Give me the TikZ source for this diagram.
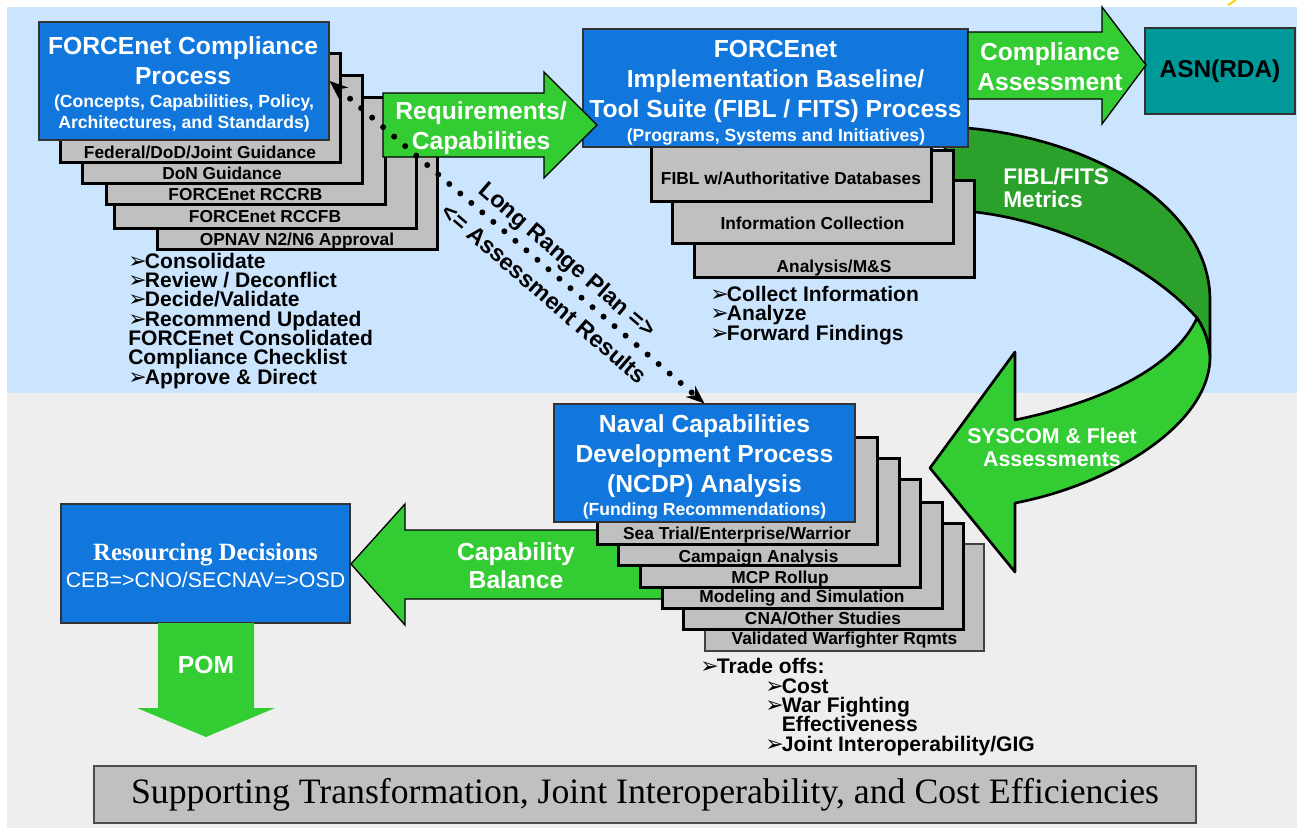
\documentclass[tikz,border=0pt]{standalone}
\usepackage{fontspec}
\setmainfont{Liberation Sans}
\newfontfamily\serifface{Liberation Serif}
\newfontfamily\dingface{DejaVu Sans}
\usetikzlibrary{arrows.meta}

\definecolor{skyback}{RGB}{204,229,255}
\definecolor{greyback}{RGB}{238,238,238}
\definecolor{procblue}{RGB}{17,119,221}
\definecolor{flowgreen}{RGB}{51,204,51}
\definecolor{loopgreen}{RGB}{43,160,43}
\definecolor{asnteal}{RGB}{0,153,153}
\definecolor{stepgrey}{RGB}{192,192,192}

\newlength\bulw \setlength\bulw{12.5pt}
\newcommand\arrbul{\makebox[\bulw][l]{\smash{\dingface\fontsize{16.5}{16.5}\selectfont ➢}}}
\newcommand\tightlines{\lineskiplimit-20pt\relax}

\tikzset{
  procbox/.style={draw=black!80, fill=procblue, line width=0.8pt, inner sep=0pt},
  stepbox/.style={draw=black, fill=stepgrey, line width=2.25pt},
  blockarrow/.style={draw=black, fill=flowgreen, line width=1pt, line join=miter},
  loopband/.style={draw=black, line width=2pt, line join=round},
  headtxt/.style={text=white, align=center, anchor=base, inner sep=0pt, font=\fontsize{18.5}{22.2}\selectfont\bfseries},
  subtxt/.style={text=white, align=center, anchor=base, inner sep=0pt, font=\fontsize{13.2}{15.75}\selectfont\bfseries},
  steptxt/.style={anchor=base, inner sep=0pt, font=\fontsize{13}{15}\selectfont\bfseries},
  listtxt/.style={anchor=base west, align=left, inner sep=0pt, font=\fontsize{15.8}{14.5}\selectfont\bfseries\tightlines},
  lrtxt/.style={inner sep=0pt, font=\fontsize{17.5}{20}\selectfont\bfseries},
  dotlink/.style={line width=4.5pt, line cap=round, dash pattern=on 0pt off 10.9pt,
    arrows={Stealth[length=14pt,width=11pt,line width=0pt]-Stealth[length=14pt,width=11pt,line width=0pt]}},
}

\begin{document}
\begin{tikzpicture}[x=0.75pt, y=-0.75pt]
  \useasboundingbox (0,0) rectangle (1297,828);
  % backgrounds
  \fill[white] (0,0) rectangle (1297,828);
  \fill[skyback] (7,7) rectangle (1297,393);
  \fill[greyback] (7,393) rectangle (1297,828);
  \draw[yellow!70!orange, line width=1.5pt] (1228,5) -- (1236,0);

  % twisted metrics loop
  \filldraw[loopband, fill=loopgreen] (945,128) -- (967,128) .. controls (1100,140) and (1210,210) .. (1210,300)
    -- (1210,357) .. controls (1209,343) and (1205,330) .. (1197,318)
    .. controls (1150,265) and (1060,222) .. (975,212) -- (945,212) -- cycle;
  \filldraw[loopband, fill=flowgreen] (1197,318) .. controls (1205,330) and (1209,343) .. (1210,357)
    .. controls (1210,425) and (1110,485) .. (1015,503) -- (1015,572) -- (930,468) -- (1015,352) -- (1015,420)
    .. controls (1110,400) and (1175,365) .. (1197,318) -- cycle;
  \node[headtxt, anchor=base west, align=left, font=\fontsize{17}{17.25}\selectfont\bfseries] (fitsmetrics) at (1003,207) {FIBL/FITS\\Metrics};
  \node[headtxt, font=\fontsize{16}{17.25}\selectfont\bfseries] (sysfleet) at (1052,466) {SYSCOM \& Fleet\\Assessments};

  % compliance process stack
  \draw[stepbox] (157,141) rectangle (437,249);
  \node[steptxt] (opnav) at (297,245) {OPNAV N2/N6 Approval};
  \draw[stepbox] (114,119) rectangle (416,228);
  \node[steptxt] (rccfb) at (265,222) {FORCEnet RCCFB};
  \draw[stepbox] (106,97) rectangle (385,204);
  \node[steptxt] (rccrb) at (245.5,200) {FORCEnet RCCRB};
  \draw[stepbox] (82,75) rectangle (362,183);
  \node[steptxt] (dong) at (222,179) {DoN Guidance};
  \draw[stepbox] (60,53) rectangle (340,162);
  \node[steptxt] (fedg) at (200,158) {Federal/DoD/Joint Guidance};
  \node[procbox, minimum width=217.5pt, minimum height=88.5pt] (fcp) at (184,81) {};
  \node[headtxt] (fcptitle) at (183,84) {FORCEnet Compliance\\Process};
  \node[subtxt] (fcpsub) at (184,128) {(Concepts, Capabilities, Policy,\\Architectures, and Standards)};
  \node[listtxt] (fcplist) at (128,384) {\arrbul Consolidate\\\arrbul Review / Deconflict\\\arrbul Decide/Validate\\\arrbul Recommend Updated\\FORCEnet Consolidated\\Compliance Checklist\\\arrbul Approve \& Direct};

  % FIBL / FITS stack
  \draw[stepbox] (694,180) rectangle (974,277);
  \node[steptxt] (anams) at (834,272) {Analysis/M\&S};
  \draw[stepbox] (672,150) rectangle (953,243);
  \node[steptxt] (infocoll) at (812.5,229) {Information Collection};
  \draw[stepbox] (651,120) rectangle (931,201);
  \node[steptxt] (fiblauth) at (791,184) {FIBL w/Authoritative Databases};
  \node[procbox, minimum width=288.75pt, minimum height=88.5pt] (fibl) at (775.5,88) {};
  \node[headtxt] (fibltitle) at (775.5,117) {FORCEnet\\Implementation Baseline/\\Tool Suite (FIBL / FITS) Process};
  \node[subtxt] (fiblsub) at (776,141) {(Programs, Systems and Initiatives)};
  \node[listtxt] (fibllist) at (710,340) {\arrbul Collect Information\\\arrbul Analyze\\\arrbul Forward Findings};

  % requirements arrow
  \filldraw[blockarrow] (383,93) -- (544,93) -- (544,72) -- (597,125) -- (544,178) -- (544,157) -- (383,157) -- cycle;
  \node[headtxt] (reqlbl) at (481,149) {Requirements/\\Capabilities};

  % ASN(RDA) and compliance arrow
  \node[draw=black!80, fill=asnteal, line width=0.8pt, minimum width=112.5pt, minimum height=64.5pt,
    font=\fontsize{18.3}{22}\selectfont\bfseries] (asn) at (1220,71) {ASN(RDA)};
  \filldraw[blockarrow] (968,32) -- (1102,32) -- (1102,7) -- (1146,65) -- (1102,124) -- (1102,99) -- (968,99) -- cycle;
  \node[headtxt] (complbl) at (1050,90) {Compliance\\Assessment};

  % capability balance arrow
  \filldraw[blockarrow] (720,530) -- (405,530) -- (405,504) -- (351,564) -- (405,625) -- (405,599) -- (720,599) -- cycle;
  \node[headtxt, font=\fontsize{18.5}{20.5}\selectfont\bfseries] (caplbl) at (516,588) {Capability\\Balance};

  % NCDP stack
  \draw[stepbox, line width=1.2pt, draw=black!75] (705,544) rectangle (984,651);
  \node[steptxt] (valreq) at (844.5,644) {Validated Warfighter Rqmts};
  \draw[stepbox] (683,523) rectangle (963,629);
  \node[steptxt] (cnaos) at (823,624) {CNA/Other Studies};
  \draw[stepbox] (662,502) rectangle (942,608);
  \node[steptxt] (modsim) at (802,602) {Modeling and Simulation};
  \draw[stepbox] (640,479) rectangle (920,587);
  \node[steptxt] (mcproll) at (780,583) {MCP Rollup};
  \draw[stepbox] (618,458) rectangle (899,565);
  \node[steptxt] (camp) at (758.5,562) {Campaign Analysis};
  \draw[stepbox] (597,437) rectangle (877,544);
  \node[steptxt] (seatrial) at (737,539) {Sea Trial/Enterprise/Warrior};
  \node[procbox, minimum width=225.75pt, minimum height=88.5pt] (ncdp) at (704.5,463) {};
  \node[headtxt] (ncdptitle) at (704.5,492) {Naval Capabilities\\Development Process\\(NCDP) Analysis};
  \node[subtxt] (ncdpsub) at (704.5,515) {(Funding Recommendations)};
  \node[listtxt] (tradeoffs) at (700,751) {\arrbul Trade offs:\\\hspace*{48.75pt}\arrbul Cost\\\hspace*{48.75pt}\arrbul War Fighting\\\hspace*{48.75pt}\hspace*{\bulw}Effectiveness\\\hspace*{48.75pt}\arrbul Joint Interoperability/GIG};

  % resourcing decisions and POM
  \node[procbox, minimum width=216.75pt, minimum height=89.25pt] (resdec) at (205.5,563.5) {};
  \node[text=white, anchor=base, inner sep=0pt, font=\serifface\fontsize{18.6}{20}\selectfont\bfseries] (restitle) at (205.5,560) {Resourcing Decisions};
  \node[text=white, anchor=base, inner sep=0pt, font=\fontsize{16}{18}\selectfont] (reschain) at (205.5,587) {CEB=>CNO/SECNAV=>OSD};
  \fill[flowgreen] (158,623) -- (254,623) -- (254,708) -- (275,708) -- (206,737) -- (137,708) -- (158,708) -- cycle;
  \node[headtxt] (pomlbl) at (206,673) {POM};

  % banner
  \node[draw=black!70, fill=stepgrey, line width=1.5pt, minimum width=826.5pt, minimum height=42.75pt,
    font=\serifface\fontsize{26.8}{30}\selectfont] (banner) at (645,794.5) {Supporting Transformation, Joint Interoperability, and Cost Efficiencies};

  % long range plan link
  \draw[dotlink] (fcp.east) -- (ncdp.north)
    node[lrtxt, pos=0.6, sloped, above=3pt] (lrplan) {Long Range Plan =>}
    node[lrtxt, pos=0.61, sloped, below=7pt] (assres) {<= Assessment Results};
\end{tikzpicture}
\end{document}
